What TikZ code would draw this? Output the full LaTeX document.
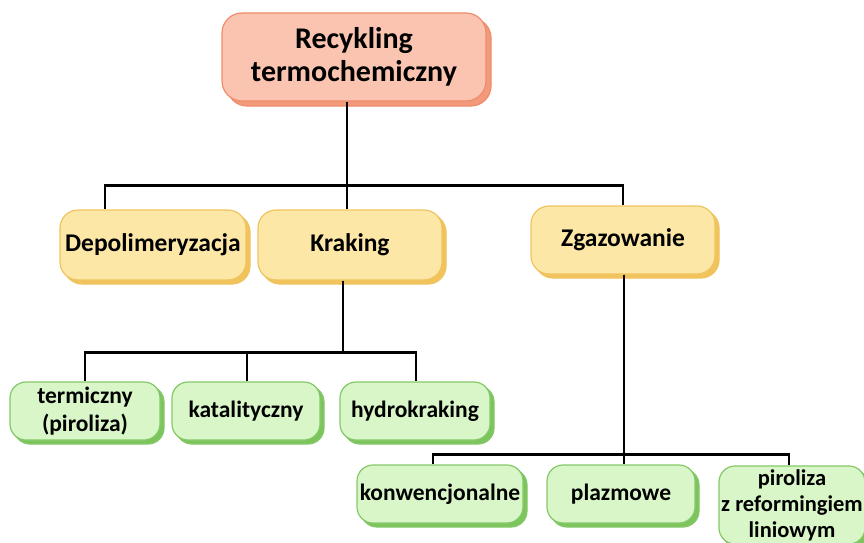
\documentclass[tikz,border=0pt]{standalone}
\usepackage{fontspec}
\setmainfont{Carlito}
\usetikzlibrary{positioning,shapes,shadows}

\definecolor{rootfill}{RGB}{250,196,176}
\definecolor{rootedge}{RGB}{238,140,108}
\definecolor{rootshade}{RGB}{243,154,122}
\definecolor{catfill}{RGB}{253,231,166}
\definecolor{catedge}{RGB}{238,196,96}
\definecolor{catshade}{RGB}{242,195,90}
\definecolor{leaffill}{RGB}{216,246,200}
\definecolor{leafedge}{RGB}{132,200,104}
\definecolor{leafshade}{RGB}{124,196,92}

\begin{document}
\begin{tikzpicture}[
    x=1pt, y=-1pt,
    rootbox/.style={rectangle, draw=rootedge, fill=rootfill, line width=1.2pt, rounded corners=20pt,
        minimum width=264pt, minimum height=88pt, align=center, inner sep=0pt,
        font={\fontsize{30}{33}\selectfont\bfseries},
        copy shadow={shadow xshift=5pt, shadow yshift=-5pt, fill=rootshade, draw=rootedge}},
    catbox/.style={rectangle, draw=catedge, fill=catfill, line width=1.2pt, rounded corners=18pt,
        minimum width=184pt, minimum height=70pt, align=center, inner sep=0pt,
        font={\fontsize{25.5}{30}\selectfont\bfseries},
        copy shadow={shadow xshift=4pt, shadow yshift=-4pt, fill=catshade, draw=catedge}},
    leafbox/.style={rectangle, draw=leafedge, fill=leaffill, line width=1.2pt, rounded corners=16pt,
        minimum width=150pt, minimum height=58pt, align=center, inner sep=0pt,
        font={\fontsize{23.5}{28}\selectfont\bfseries},
        copy shadow={shadow xshift=4pt, shadow yshift=-4pt, fill=leafshade, draw=leafedge}},
    link/.style={line width=2.6pt, black}
]
\useasboundingbox (0,0) rectangle (864,543);

% Root
\node[rootbox] (root) at (354,57) {Recykling\\termochemiczny};

% Categories
\node[catbox, minimum width=186pt] (depol) at (153,245) {Depolimeryzacja};
\node[catbox] (krak) at (350,245) {Kraking};
\node[catbox, minimum height=68pt] (zgaz) at (623,240) {Zgazowanie};

% Kraking leaves
\node[leafbox] (term) at (85,411) {termiczny\\(piroliza)};
\node[leafbox, minimum width=148pt] (kat) at (246,411) {katalityczny};
\node[leafbox] (hydro) at (415,411) {hydrokraking};

% Zgazowanie leaves
\node[leafbox, minimum width=166pt] (konw) at (440,494) {konwencjonalne};
\node[leafbox, minimum width=148pt] (plaz) at (621,494) {plazmowe};
\node[leafbox, minimum width=146pt, minimum height=78pt,
      font={\fontsize{22.5}{26}\selectfont\bfseries}] (piro) at (792,505) {piroliza\\z reformingiem\\liniowym};

% Connectors
\draw[link] ([xshift=-7pt]root.south) -- ++(0,84) -| ([xshift=-48pt]depol.north);
\draw[link] ([xshift=-7pt]root.south) -- ++(0,84) -| ([xshift=-3pt]krak.north);
\draw[link] ([xshift=-7pt]root.south) -- ++(0,84) -| (zgaz.north);

\draw[link] ([xshift=-7pt]krak.south) -- ++(0,72) -| (term.north);
\draw[link] ([xshift=-7pt]krak.south) -- ++(0,72) -| ([xshift=1pt]kat.north);
\draw[link] ([xshift=-7pt]krak.south) -- ++(0,72) -| ([xshift=1pt]hydro.north);

\draw[link] ([xshift=1pt]zgaz.south) -- ++(0,180) -| ([xshift=-7pt]konw.north);
\draw[link] ([xshift=1pt]zgaz.south) -- ++(0,180) -| ([xshift=3pt]plaz.north);
\draw[link] ([xshift=1pt]zgaz.south) -- ++(0,180) -| ([xshift=-3pt]piro.north);

\end{tikzpicture}
\end{document}
